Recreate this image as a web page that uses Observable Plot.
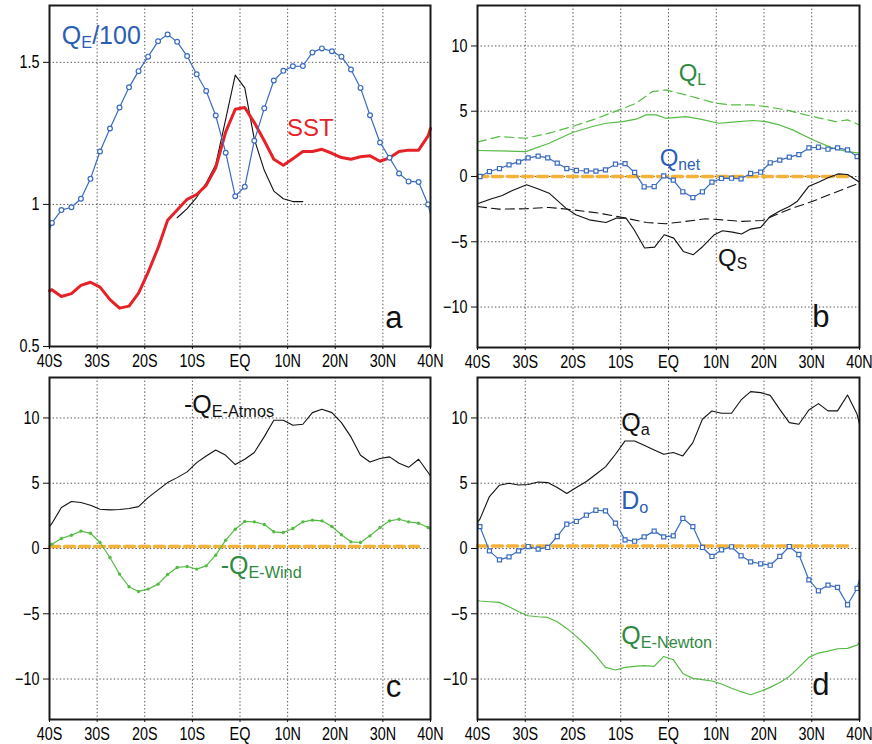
<!DOCTYPE html>
<html><head><meta charset="utf-8">
<script src="https://cdn.jsdelivr.net/npm/d3@7"></script>
<script src="https://cdn.jsdelivr.net/npm/@observablehq/plot@0.6"></script>
<style>
body{margin:0;background:#fff;}
#wrap{position:relative;width:872px;height:744px;overflow:hidden;}
.panel{position:absolute;width:436px;height:372px;}
.panel svg{overflow:visible;background:transparent;}
</style></head><body><div id="wrap"></div>
<script>
// ---------- tick labels ----------
const xTicks = [-40,-30,-20,-10,0,10,20,30,40];
const xTickLabels = ["40S","30S","20S","10S","EQ","10N","20N","30N","40N"];
const yTicksA = [0.5,1,1.5];
const yTickLabelsA = ["0.5","1","1.5"];
const yTicksF = [-10,-5,0,5,10];
const yTickLabelsF = ["\u221210","\u22125","0","5","10"];

// ---------- latitudes ----------
const latGrid = [-39.5,-37.5,-35.4,-33.4,-31.4,-29.4,-27.3,-25.3,-23.3,-21.3,-19.3,-17.2,-15.2,-13.2,-11.1,-9.1,-7.1,-5.1,-3.0,-1.0,1.0,3.0,5.1,7.1,9.1,11.1,13.2,15.2,17.2,19.3,21.3,23.3,25.3,27.3,29.4,31.4,33.4,35.4,37.5,39.5];
const latFull = [-40, ...latGrid, 40];

// ---------- panel a ----------
const qe100 = [0.91,0.935,0.98,0.99,1.02,1.09,1.186,1.267,1.341,1.412,1.469,1.52,1.574,1.598,1.572,1.522,1.458,1.399,1.313,1.182,1.029,1.062,1.224,1.338,1.436,1.47,1.486,1.487,1.535,1.549,1.539,1.52,1.475,1.41,1.314,1.218,1.164,1.109,1.081,1.079,1.0,0.965];
const sst = [0.696,0.70,0.676,0.686,0.715,0.726,0.709,0.665,0.635,0.642,0.688,0.761,0.847,0.944,0.98,1.018,1.035,1.067,1.129,1.255,1.335,1.341,1.288,1.224,1.159,1.138,1.161,1.186,1.186,1.194,1.18,1.165,1.159,1.168,1.171,1.152,1.164,1.186,1.191,1.191,1.241,1.267];
const blackALat = [-13.2,-11.1,-9.1,-7.1,-5.1,-3.0,-1.0,1.0,3.0,5.1,7.1,9.1,11.1,13.2];
const blackA = [0.953,0.985,1.025,1.075,1.14,1.30,1.455,1.41,1.23,1.12,1.047,1.02,1.01,1.01];

// ---------- panel b ----------
const qnet = [0,0.38,0.61,0.89,1.12,1.43,1.56,1.43,1.02,0.61,0.46,0.43,0.41,0.51,0.94,0.99,0.31,-0.79,-0.77,0.05,-0.28,-1.17,-1.61,-1.17,-0.43,-0.15,-0.13,-0.18,0.23,0.33,1.05,1.25,1.48,1.68,2.19,2.24,2.09,2.19,2.04,1.53];
const qlDashLat = [-40,-35.5,-29.9,-25,-20.1,-15.9,-10.3,-6.8,-3.4,-0.6,3.6,9.9,13.4,17.6,20.4,24.6,30.2,35,37.5,40];
const qlDash = [2.63,3.06,2.93,3.32,3.83,4.34,5.1,5.61,6.5,6.63,6.25,5.61,5.48,5.48,5.36,5.1,4.59,4.2,4.34,3.95];
const qlSolidLat = [-40,-35.5,-29.9,-25,-20.1,-15.9,-13.1,-9.6,-6.8,-4.7,-2.6,-0.6,3.6,6.4,10.6,13.4,17.6,20.4,23.2,26,30.2,34.4,37.5,40];
const qlSolid = [1.99,1.96,1.91,2.55,3.37,3.83,4.08,4.21,4.39,4.72,4.72,4.46,4.59,4.41,4.08,4.16,4.29,4.21,3.95,3.57,2.81,2.17,1.91,1.79];
const qsSolidLat = [-40,-37.2,-34.8,-32.7,-29.7,-27.1,-25,-21.5,-19.4,-16.6,-13.1,-11,-8.9,-7.2,-5,-2.9,-0.9,1.1,3.1,5.2,7.2,9.6,11.3,13.4,15.3,17.2,19.3,21.3,23.3,25.3,27.0,29.4,31.4,33.4,35.5,37.5,40];
const qsSolid = [-2.09,-1.73,-1.45,-1.07,-0.64,-0.97,-1.28,-2.42,-2.93,-3.32,-3.52,-3.19,-3.19,-4.08,-5.48,-5.41,-4.46,-4.72,-5.74,-5.99,-5.36,-4.46,-4.16,-4.26,-4.41,-4.03,-3.9,-3.06,-2.65,-2.3,-1.89,-0.74,-0.44,-0.1,0.2,0.15,-0.44];
const qsDashLat = [-40,-35.5,-29.9,-25,-20.1,-14.5,-8.9,-4.7,-0.6,3.6,7.8,11.3,15.5,19.7,22.5,26,30.2,34.3,37.5,40];
const qsDash = [-2.3,-2.5,-2.47,-2.37,-2.55,-2.81,-3.19,-3.52,-3.62,-3.44,-3.24,-3.32,-3.44,-3.37,-2.93,-2.42,-1.9,-1.3,-0.85,-0.5];

// ---------- panel c ----------
const qeAtmos = [1.68,1.92,3.14,3.6,3.52,3.32,3.01,2.96,2.99,3.06,3.21,3.9,4.49,5.05,5.43,5.87,6.58,7.09,7.55,7.14,6.43,6.84,7.35,8.57,9.82,9.82,9.44,9.52,10.41,10.66,10.41,9.64,8.55,7.14,6.63,6.89,7.02,6.53,6.22,6.84,5.82,5.56];
const qeWind = [0.26,0.33,0.77,1.02,1.33,1.17,0.46,-0.69,-1.96,-2.93,-3.29,-3.11,-2.73,-1.99,-1.45,-1.38,-1.58,-1.33,-0.51,0.64,1.48,2.07,2.04,1.84,1.28,1.22,1.53,2.04,2.17,2.12,1.68,1.05,0.51,0.46,0.97,1.61,2.12,2.24,2.04,1.94,1.61,1.43];

// ---------- panel d ----------
const qa = [1.99,2.25,3.98,4.85,5.0,4.87,4.9,5.1,5.05,4.67,4.21,4.67,5.13,5.69,6.25,7.22,8.24,8.24,7.91,7.55,7.22,7.35,7.09,8.11,9.9,10.54,10.36,10.36,11.38,12.02,11.94,11.73,10.66,9.64,9.52,10.61,11.1,10.54,10.54,11.76,10.28,9.52];
const dO = [1.9,1.68,-0.18,-0.87,-0.64,-0.18,0.15,-0.05,0.08,0.92,1.86,2.07,2.55,2.93,2.88,1.94,0.66,0.56,0.89,1.33,0.89,0.97,2.3,1.68,0.08,-0.61,-0.1,0.13,-0.56,-1.02,-1.17,-1.28,-0.61,0.15,-0.46,-2.4,-3.24,-2.81,-2.98,-4.31,-3.06,-2.35];
const qeNewton = [-4.0,-4.02,-4.08,-4.13,-4.46,-4.85,-5.15,-5.23,-5.28,-5.61,-6.12,-6.73,-7.45,-8.21,-9.11,-9.31,-9.11,-9.03,-8.98,-9.03,-8.27,-8.52,-9.57,-9.95,-10.05,-10.15,-10.38,-10.71,-10.97,-11.2,-10.94,-10.64,-10.26,-9.8,-9.11,-8.34,-8.01,-7.86,-7.68,-7.65,-7.4,-7.19];

// reference (orange dashed) lines
const zeroLat = [-40, 37.5];
const zeroB = [0, 0];
const zeroC = [0.15, 0.15];
const zeroD = [0.2, 0.2];

// colours
const BLUE = "#3a6cc0", BLUE_T = "#2b5eb3", RED = "#e62228", GREEN = "#55bb44", GREEN_T = "#2f8a3f", ORANGE = "#f4b23a";

const zip = (xs, ys) => xs.map((x, i) => ({lat: x, v: ys[i]}));
const inner = d => d.lat > -40 && d.lat < 40;

const TICKFONT = "'Liberation Sans', Arial, Helvetica, sans-serif";
const LABFONT = "'Liberation Sans', Arial, Helvetica, sans-serif";

function panel({left, top, mL, mR, mT, mB, yDomain, yTicks, yLabels, marks}) {
  const p = Plot.plot({
    width: 436, height: 372,
    marginLeft: mL, marginRight: mR, marginTop: mT, marginBottom: mB,
    style: {background: "transparent", overflow: "visible", fontFamily: TICKFONT},
    x: {domain: [-40, 40]},
    y: {domain: yDomain},
    marks: [
      Plot.gridX(xTicks, {stroke: "#555", strokeOpacity: 1, strokeDasharray: "1.4,2.2", strokeWidth: 1}),
      Plot.gridY(yTicks, {stroke: "#555", strokeOpacity: 1, strokeDasharray: "1.4,2.2", strokeWidth: 1}),
      ...marks,
      Plot.frame({stroke: "#1a1a1a", strokeWidth: 2}),
      Plot.axisX(xTicks, {tickFormat: d => xTickLabels[xTicks.indexOf(d)], tickSize: 3, tickPadding: 5, fontSize: 18, label: null, stroke: "#111"}),
      Plot.axisY(yTicks, {tickFormat: d => yLabels[yTicks.indexOf(d)], tickSize: 6, tickPadding: 4, fontSize: 18, label: null, stroke: "#111"})
    ]
  });
  // narrow the tick-label glyphs like the original condensed Helvetica
  d3.select(p).selectAll("g[aria-label$='tick label'] text").each(function() {
    const tr = this.getAttribute("transform") || "";
    this.setAttribute("transform", tr + " scale(0.8,1)");
  });
  const div = document.createElement("div");
  div.className = "panel";
  div.style.left = left + "px";
  div.style.top = top + "px";
  div.appendChild(p);
  document.getElementById("wrap").appendChild(div);
  return p;
}

function label(p, lat, val, parts, color, size) {
  const sx = p.scale("x"), sy = p.scale("y");
  const t = d3.select(p).append("text")
    .attr("x", sx.apply(lat)).attr("y", sy.apply(val))
    .attr("text-anchor", "start")
    .attr("fill", color).attr("font-family", LABFONT).attr("font-size", size);
  let sub = false;
  for (const [s, isSub] of parts) {
    const ts = t.append("tspan").text(s).attr("font-size", isSub ? size * 0.65 : size);
    if (isSub && !sub) ts.attr("dy", size * 0.16);
    if (!isSub && sub) ts.attr("dy", -size * 0.16);
    sub = isSub;
  }
}

// ----- panel a -----
const dA = zip(latFull, qe100);
const pa = panel({left: 0, top: 0, mL: 49, mR: 6, mT: 5, mB: 26, yDomain: [0.5, 1.7], yTicks: yTicksA, yLabels: yTickLabelsA,
  marks: [
    Plot.line(zip(blackALat, blackA), {x: "lat", y: "v", stroke: "#111", strokeWidth: 1.1}),
    Plot.line(zip(latFull, sst), {x: "lat", y: "v", stroke: RED, strokeWidth: 3}),
    Plot.line(dA, {x: "lat", y: "v", stroke: BLUE, strokeWidth: 1.2}),
    Plot.dot(dA.filter(inner), {x: "lat", y: "v", r: 2.4, stroke: BLUE, fill: "white", strokeWidth: 1.2})
  ]});
label(pa, -37.3, 1.563, [["Q", false], ["E", true], ["/100", false]], BLUE_T, 25);
label(pa, 9.96, 1.239, [["SST", false]], RED, 24);
label(pa, 30.6, 0.563, [["a", false]], "#111", 31);

// ----- panel b -----
const dNet = zip(latGrid, qnet);
const pb = panel({left: 436, top: 0, mL: 41, mR: 13, mT: 5, mB: 25, yDomain: [-13.1, 13.1], yTicks: yTicksF, yLabels: yTickLabelsF,
  marks: [
    Plot.line(zip(zeroLat, zeroB), {x: "lat", y: "v", stroke: ORANGE, strokeWidth: 3.5, strokeDasharray: "10,5"}),
    Plot.line(zip(qlDashLat, qlDash), {x: "lat", y: "v", stroke: GREEN, strokeWidth: 1.2, strokeDasharray: "9,5"}),
    Plot.line(zip(qlSolidLat, qlSolid), {x: "lat", y: "v", stroke: GREEN, strokeWidth: 1.2}),
    Plot.line(zip(qsDashLat, qsDash), {x: "lat", y: "v", stroke: "#111", strokeWidth: 1.1, strokeDasharray: "9,5"}),
    Plot.line(zip(qsSolidLat, qsSolid), {x: "lat", y: "v", stroke: "#111", strokeWidth: 1.1}),
    Plot.line(dNet, {x: "lat", y: "v", stroke: BLUE, strokeWidth: 1.2}),
    Plot.dot(dNet, {x: "lat", y: "v", symbol: "square", r: 2.3, stroke: BLUE, fill: "white", strokeWidth: 1.2})
  ]});
label(pb, 2.24, 7.29, [["Q", false], ["L", true]], GREEN_T, 24);
label(pb, -1.74, 0.79, [["Q", false], ["net", true]], BLUE_T, 24);
label(pb, 10.47, -6.86, [["Q", false], ["S", true]], "#111", 24);
label(pb, 30.2, -11.6, [["b", false]], "#111", 31);

// ----- panel c -----
const dWind = zip(latFull, qeWind);
const pc = panel({left: 0, top: 372, mL: 49, mR: 6, mT: 5, mB: 25, yDomain: [-13.1, 13.1], yTicks: yTicksF, yLabels: yTickLabelsF,
  marks: [
    Plot.line(zip(zeroLat, zeroC), {x: "lat", y: "v", stroke: ORANGE, strokeWidth: 3.5, strokeDasharray: "10,5"}),
    Plot.line(zip(latFull, qeAtmos), {x: "lat", y: "v", stroke: "#111", strokeWidth: 1.1}),
    Plot.line(dWind, {x: "lat", y: "v", stroke: GREEN, strokeWidth: 1.2}),
    Plot.dot(dWind.filter(inner), {x: "lat", y: "v", r: 1.7, fill: GREEN})
  ]});
label(pc, -11.66, 10.37, [["-Q", false], ["E-Atmos", true]], "#111", 25);
label(pc, -3.96, -1.97, [["-Q", false], ["E-Wind", true]], GREEN_T, 25);
label(pc, 30.7, -11.43, [["c", false]], "#111", 31);

// ----- panel d -----
const dDo = zip(latFull, dO);
const pd = panel({left: 436, top: 372, mL: 41, mR: 13, mT: 5, mB: 25, yDomain: [-13.1, 13.1], yTicks: yTicksF, yLabels: yTickLabelsF,
  marks: [
    Plot.line(zip(zeroLat, zeroD), {x: "lat", y: "v", stroke: ORANGE, strokeWidth: 3.5, strokeDasharray: "10,5"}),
    Plot.line(zip(latFull, qa), {x: "lat", y: "v", stroke: "#111", strokeWidth: 1.1}),
    Plot.line(zip(latFull, qeNewton), {x: "lat", y: "v", stroke: GREEN, strokeWidth: 1.2}),
    Plot.line(dDo, {x: "lat", y: "v", stroke: BLUE, strokeWidth: 1.2}),
    Plot.dot(dDo.filter(inner), {x: "lat", y: "v", symbol: "square", r: 2.3, stroke: BLUE, fill: "white", strokeWidth: 1.2})
  ]});
label(pd, -9.78, 8.94, [["Q", false], ["a", true]], "#111", 25);
label(pd, -9.78, 3.01, [["D", false], ["o", true]], BLUE_T, 25);
label(pd, -9.78, -7.33, [["Q", false], ["E-Newton", true]], GREEN_T, 25);
label(pd, 30.2, -11.29, [["d", false]], "#111", 31);
</script></body></html>
